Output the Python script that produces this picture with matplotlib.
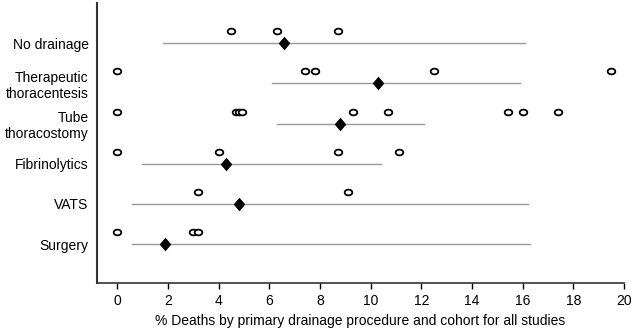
import matplotlib
matplotlib.use('Agg')
import matplotlib.pyplot as plt
import numpy as np

plt.rc('font', family=['Liberation Sans', 'DejaVu Sans'], size=10)

# categories, top to bottom
groups = ['No drainage', 'Therapeutic\nthoracentesis', 'Tube\nthoracostomy',
          'Fibrinolytics', 'VATS', 'Surgery']

# individual study mortality (%)
studies = [
    [4.5, 6.3, 8.7],
    [0.0, 7.4, 7.8, 12.5, 19.5],
    [0.0, 4.67, 4.8, 4.93, 9.3, 10.7, 15.4, 16.0, 17.4],
    [0.0, 4.0, 8.7, 11.1],
    [3.2, 9.1],
    [0.0, 3.0, 3.2],
]

# pooled estimate and interval
pooled = [6.6, 10.3, 8.8, 4.3, 4.8, 1.9]
low = [1.8, 6.1, 6.3, 1.0, 0.6, 0.6]
high = [16.1, 15.9, 12.1, 10.4, 16.2, 16.3]

# marker shapes: slightly flattened ring, slightly tall diamond
t = np.linspace(0, 2 * np.pi, 40)
ring = list(zip(np.cos(t), 0.75 * np.sin(t)))
diamond = [(-0.85, 0), (0, 1), (0.85, 0), (0, -1), (-0.85, 0)]

fig = plt.figure(figsize=(6.33, 3.35), dpi=100)
ax = fig.add_axes([0.153, 0.155, 0.833, 0.836])

rows = np.arange(len(groups))[::-1] + 1.0
for r, s, p, lo, hi in zip(rows, studies, pooled, low, high):
    ax.plot([lo, hi], [r, r], color='#999999', lw=1.0, zorder=1)
    ax.plot(p, r, linestyle='None', marker=diamond, markersize=9,
            markerfacecolor='k', markeredgecolor='k', markeredgewidth=0.5, zorder=3)
    ax.plot(s, [r + 0.3] * len(s), linestyle='None', marker=ring, markersize=5.5,
            markerfacecolor='white', markeredgecolor='k', markeredgewidth=1.3, zorder=2)

ax.set_xlim(-0.8, 20.0)
ax.set_ylim(0.03, 7.0)
ax.tick_params(axis='y', length=0, pad=6, labelsize=10)
ax.tick_params(axis='x', direction='out', length=4, width=1, pad=4, labelsize=10)
ax.set_xticks(np.arange(0, 21, 2))
ax.set_yticks(rows)
ax.set_yticklabels(groups, multialignment='right')

ax.spines['top'].set_visible(False)
ax.spines['right'].set_visible(False)
ax.spines['left'].set_linewidth(1.5)
ax.spines['bottom'].set_linewidth(1.2)
ax.spines['left'].set_color('#333333')
ax.spines['bottom'].set_color('#333333')

ax.set_xlabel('% Deaths by primary drainage procedure and cohort for all studies',
              fontsize=10, labelpad=4)

plt.savefig('out.png', dpi=100)
